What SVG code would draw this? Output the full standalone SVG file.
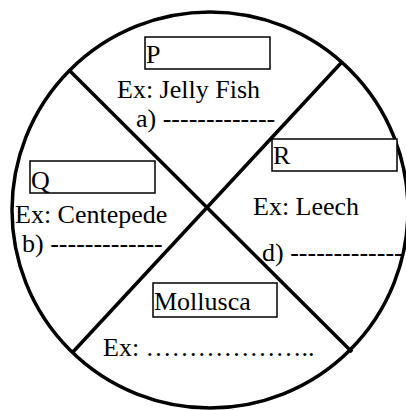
<svg xmlns="http://www.w3.org/2000/svg" width="406" height="410" viewBox="0 0 406 410">
<style>
text{font-family:"Liberation Serif","Times New Roman",serif;font-size:26px;fill:#000}
.box{fill:#fff;stroke:#000;stroke-width:1.5}
.ln{stroke:#000;stroke-width:3.5;fill:none}
</style>
<rect width="406" height="410" fill="#fff"/>
<g id="connectors">
<circle class="ln" cx="210" cy="210" r="198"/>
<line class="ln" x1="70" y1="71" x2="352" y2="352"/>
<line class="ln" x1="341" y1="63" x2="72" y2="353"/>
</g>
<g id="P">
<rect class="box" x="145" y="37" width="125" height="32"/>
<text x="146" y="63">P</text>
<text x="117" y="98">Ex: Jelly Fish</text>
<text x="136" y="127">a) -------------</text>
</g>
<g id="Q">
<rect class="box" x="30" y="161" width="125" height="32"/>
<text x="31" y="189">Q</text>
<text x="15" y="223">Ex: Centepede</text>
<text x="22" y="252">b) -------------</text>
</g>
<g id="R">
<rect class="box" x="272" y="139" width="125" height="32"/>
<text x="273" y="164">R</text>
<text x="253" y="215">Ex: Leech</text>
<text x="262" y="261">d) -------------</text>
</g>
<g id="Mollusca">
<rect class="box" x="153" y="283" width="124" height="34"/>
<text x="154" y="310">Mollusca</text>
<text x="103" y="356">Ex: ………………..</text>
</g>
</svg>
